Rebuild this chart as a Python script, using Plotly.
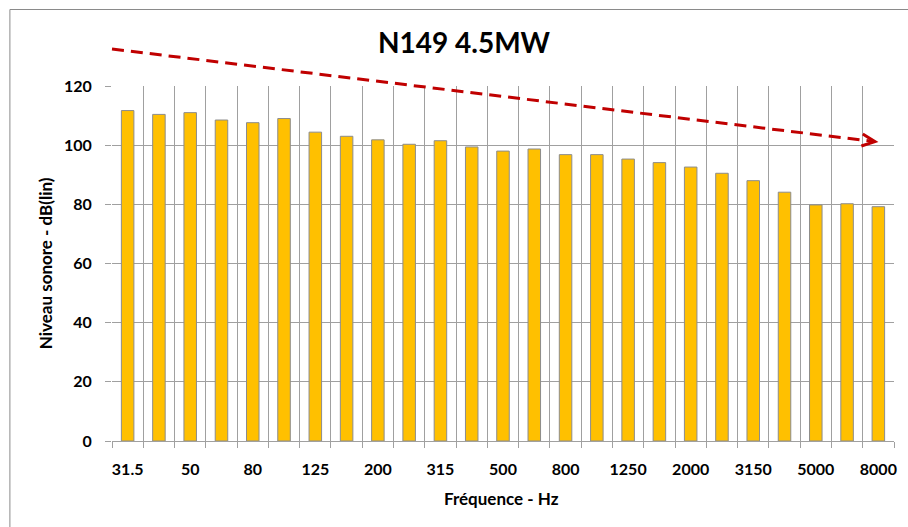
import math
import plotly.graph_objects as go

# ---------------- data ----------------
categories = ["31.5", "40", "50", "63", "80", "100", "125", "160", "200", "250",
              "315", "400", "500", "630", "800", "1000", "1250", "1600", "2000",
              "2500", "3150", "4000", "5000", "6300", "8000"]
levels = [111.7, 110.4, 111.0, 108.5, 107.6, 109.0, 104.4, 103.0, 101.8, 100.3,
          101.5, 99.4, 98.0, 98.7, 96.8, 96.8, 95.3, 94.1, 92.6, 90.5,
          88.0, 84.1, 79.8, 80.2, 79.2]
tick_labels = categories[::2]
y_ticks = [0, 20, 40, 60, 80, 100, 120]

title_text = "N149 4.5MW"
x_title = "Fréquence - Hz"
y_title = "Niveau sonore - dB(lin)"

# decorative trend arrow (category index, dB)
trend_start = (-0.5, 132.5)
trend_end = (23.89, 101.2)

# ---------------- layout geometry ----------------
W, H = 908, 527
ML, MR, MT, MB = 112, 11, 86, 86
PW, PH = W - ML - MR, H - MT - MB
n = len(categories)
Y_MAX = 120.0
sx = PW / n          # px per category
sy = PH / Y_MAX      # px per dB

FONT = "Lato"
GRID = "#a0a0a0"

idx = list(range(n))

def to_paper(xd, yd):
    return ((xd + 0.5) / n, yd / Y_MAX)

fig = go.Figure()
fig.add_trace(go.Bar(
    x=idx, y=levels, width=0.4,
    customdata=categories,
    hovertemplate="%{customdata} Hz: %{y} dB<extra></extra>",
    marker=dict(color="#FFC000", line=dict(color="#8c8c8c", width=1)),
))

# trend line (dashed) and open chevron head, in paper coords so it is not clipped
ps = to_paper(*trend_start)
pe = to_paper(*trend_end)
fig.add_shape(type="line", xref="paper", yref="paper",
              x0=ps[0], y0=ps[1], x1=pe[0], y1=pe[1],
              line=dict(color="#C00000", width=3, dash="12px,7px"))
dxp = (pe[0] - ps[0]) * PW
dyp = -(pe[1] - ps[1]) * PH
L = math.hypot(dxp, dyp)
ux, uy = dxp / L, dyp / L
nx, ny = -uy, ux
back, half = 13, 6
pts = []
for s in (1, -1):
    px_ = -back * ux + s * half * nx
    py_ = -back * uy + s * half * ny
    pts.append((pe[0] + px_ / PW, pe[1] - py_ / PH))
path = "M {} {} L {} {} L {} {}".format(pts[0][0], pts[0][1], pe[0], pe[1],
                                        pts[1][0], pts[1][1])
fig.add_shape(type="path", xref="paper", yref="paper", path=path,
              line=dict(color="#C00000", width=3))

# outer chart border
def pxx(p):
    return (p - ML) / PW
def pxy(p):
    return (H - MB - p) / PH
fig.add_shape(type="rect", xref="paper", yref="paper",
              x0=pxx(9.5), x1=pxx(W + 20), y0=pxy(H + 20), y1=pxy(9.5),
              line=dict(color="#8a8a8a", width=1), fillcolor="rgba(0,0,0,0)",
              layer="below")

fig.update_layout(
    width=W, height=H,
    margin=dict(l=ML, r=MR, t=MT, b=MB, pad=0),
    paper_bgcolor="white", plot_bgcolor="white",
    showlegend=False,
    font=dict(family=FONT, color="black"),
    title=dict(text=title_text, x=464 / W, xanchor="center",
               y=1 - 43 / H, yanchor="middle", xref="container", yref="container",
               font=dict(family=FONT, size=28, weight="bold", color="black")),
    xaxis=dict(
        range=[-0.5, n - 0.5],
        tickmode="array", tickvals=idx[::2], ticktext=tick_labels,
        ticks="", showgrid=False, zeroline=False,
        showline=True, linecolor=GRID, linewidth=1,
        tickfont=dict(family=FONT, size=16, weight="bold", color="black"),
        ticklabelstandoff=14,
        minor=dict(tick0=-0.5, dtick=1, showgrid=True, gridcolor=GRID, gridwidth=1,
                   ticks="outside", ticklen=6, tickcolor=GRID, tickwidth=1),
        fixedrange=True,
    ),
    yaxis=dict(
        range=[0, Y_MAX], tickmode="array", tickvals=y_ticks,
        showgrid=True, gridcolor=GRID, gridwidth=1,
        zeroline=False, showline=False,
        ticks="outside", ticklen=6, tickcolor=GRID, tickwidth=1,
        tickfont=dict(family=FONT, size=16, weight="bold", color="black"),
        ticklabelstandoff=10,
        fixedrange=True,
    ),
    annotations=[
        dict(text=x_title, xref="paper", yref="paper",
             x=pxx(503), y=pxy(498), xanchor="center", yanchor="middle",
             showarrow=False, font=dict(family=FONT, size=17, weight="bold", color="black")),
        dict(text=y_title, xref="paper", yref="paper",
             x=pxx(45), y=pxy(263), xanchor="center", yanchor="middle", textangle=-90,
             showarrow=False, font=dict(family=FONT, size=17, weight="bold", color="black")),
    ],
)

fig.write_html("out.html")
